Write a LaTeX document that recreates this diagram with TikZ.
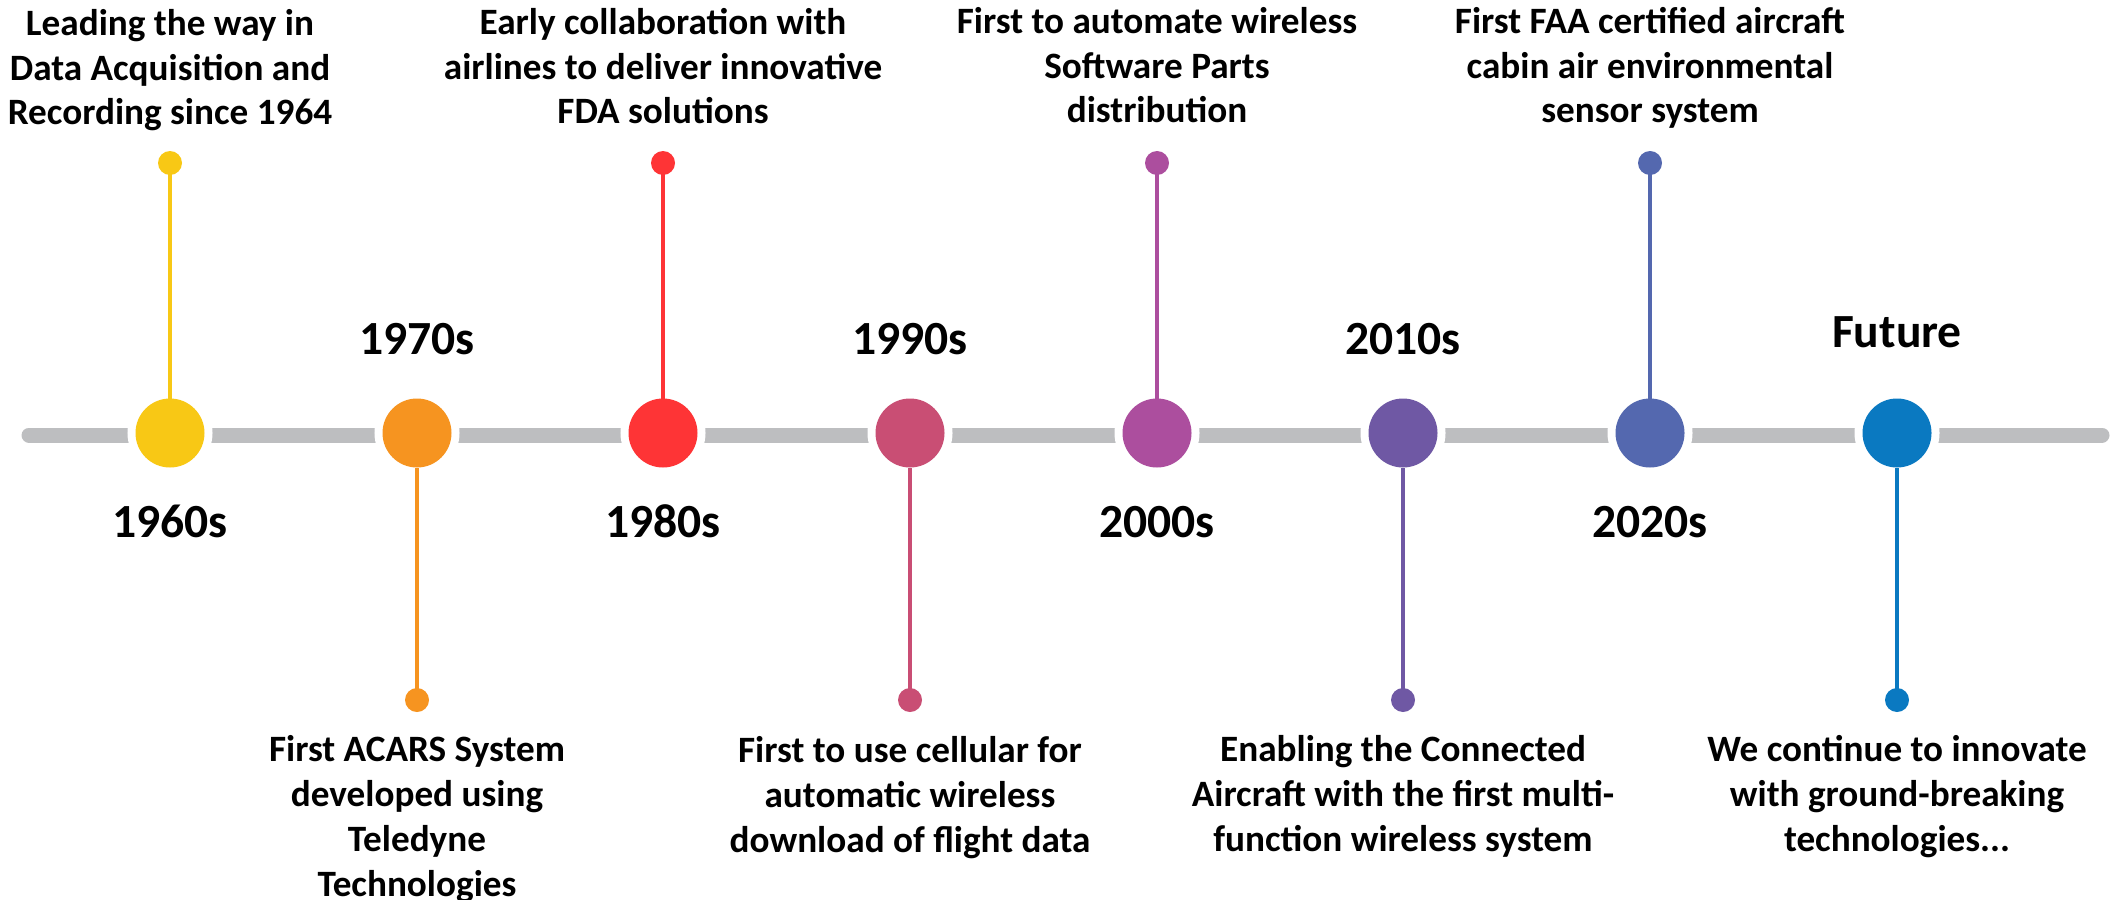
\documentclass[tikz,border=0pt]{standalone}
\usepackage{fontspec}
\setmainfont{Carlito}
\definecolor{cA}{RGB}{248,200,21}
\definecolor{cB}{RGB}{246,148,32}
\definecolor{cC}{RGB}{254,52,54}
\definecolor{cD}{RGB}{201,78,116}
\definecolor{cE}{RGB}{172,78,158}
\definecolor{cF}{RGB}{111,88,164}
\definecolor{cG}{RGB}{84,104,175}
\definecolor{cH}{RGB}{10,121,193}
\definecolor{lineg}{RGB}{189,190,192}
\begin{document}
\begin{tikzpicture}[x=0.5pt,y=-0.5pt,
  bigdot/.style={circle, minimum size=34.5pt, inner sep=0pt, outer sep=0pt, fill=#1, preaction={draw=white, line width=8pt}},
  smalldot/.style={circle, minimum size=12pt, inner sep=0pt, outer sep=0pt, fill=#1},
  stem/.style={draw=#1, line width=1.8pt},
  decade/.style={font=\bfseries\fontsize{23.8}{28}\selectfont, anchor=base, inner sep=0pt},
  desc/.style={font=\bfseries\fontsize{18.6}{22.4}\selectfont, align=center, anchor=base, inner sep=0pt},
  axis/.style={draw=lineg, line width=7.5pt, line cap=round}
]
\useasboundingbox (0,0) rectangle (2113,899);
\coordinate (L) at (29,435);
\coordinate (R) at (2102,435);
\draw[axis] (L) -- (R);

% big circles
\node[bigdot=cA] (c1) at (170,433) {};
\node[bigdot=cB] (c2) at (417,433) {};
\node[bigdot=cC] (c3) at (663,433) {};
\node[bigdot=cD] (c4) at (910,433) {};
\node[bigdot=cE] (c5) at (1157,433) {};
\node[bigdot=cF] (c6) at (1403,433) {};
\node[bigdot=cG] (c7) at (1650,433) {};
\node[bigdot=cH] (c8) at (1897,433) {};

% small dots
\node[smalldot=cA] (d1) at (170,163) {};
\node[smalldot=cB] (d2) at (417,700) {};
\node[smalldot=cC] (d3) at (663,163) {};
\node[smalldot=cD] (d4) at (910,700) {};
\node[smalldot=cE] (d5) at (1157,163) {};
\node[smalldot=cF] (d6) at (1403,700) {};
\node[smalldot=cG] (d7) at (1650,163) {};
\node[smalldot=cH] (d8) at (1897,700) {};

% stems
\draw[stem=cA] (d1.center) -- (c1.north);
\draw[stem=cB] (d2.center) -- (c2.south);
\draw[stem=cC] (d3.center) -- (c3.north);
\draw[stem=cD] (d4.center) -- (c4.south);
\draw[stem=cE] (d5.center) -- (c5.north);
\draw[stem=cF] (d6.center) -- (c6.south);
\draw[stem=cG] (d7.center) -- (c7.north);
\draw[stem=cH] (d8.center) -- (c8.south);

% decade labels
\node[decade] (y1) at (170,537) {1960s};
\node[decade] (y2) at (417,354) {1970s};
\node[decade] (y3) at (663,537) {1980s};
\node[decade] (y4) at (910,354) {1990s};
\node[decade] (y5) at (1157,537) {2000s};
\node[decade] (y6) at (1403,354) {2010s};
\node[decade] (y7) at (1650,537) {2020s};
\node[decade] (y8) at (1897,347) {Future};

% descriptions (anchor = baseline of last line)
\node[desc] (t1) at (170,125) {Leading the way in\\Data Acquisition and\\Recording since 1964};
\node[desc] (t2) at (417,896) {First ACARS System\\developed using\\Teledyne\\Technologies};
\node[desc] (t3) at (663,124) {Early collaboration with\\airlines to deliver innovative\\FDA solutions};
\node[desc] (t4) at (910,852) {First to use cellular for\\automatic wireless\\download of flight data};
\node[desc] (t5) at (1157,123) {First to automate wireless\\Software Parts\\distribution};
\node[desc] (t6) at (1403,851) {Enabling the Connected\\Aircraft with the first multi-\\function wireless system};
\node[desc] (t7) at (1650,123) {First FAA certified aircraft\\cabin air environmental\\sensor system};
\node[desc] (t8) at (1897,851) {We continue to innovate\\with ground-breaking\\technologies...};
\end{tikzpicture}
\end{document}
